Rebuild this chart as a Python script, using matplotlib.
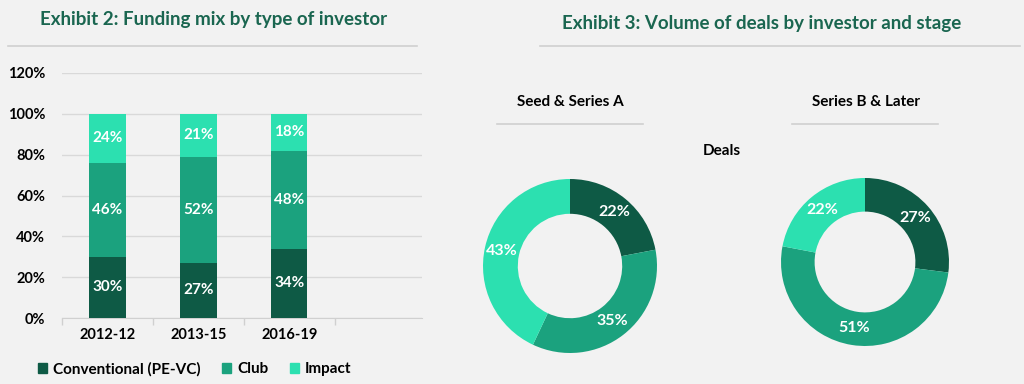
import matplotlib
matplotlib.use("Agg")
import matplotlib.pyplot as plt
import numpy as np

plt.rcParams['font.family'] = ['Lato', 'DejaVu Sans']

# Data
periods = ["2012-12", "2013-15", "2016-19", ""]
conventional = [30, 27, 34]
club = [46, 52, 48]
impact = [24, 21, 18]
series_names = ["Conventional (PE-VC)", "Club", "Impact"]

seed_values = [22, 35, 43]
later_values = [27, 51, 22]

yticks = [0, 20, 40, 60, 80, 100, 120]

BG = "#F2F2F2"
C_DARK = "#0E5A45"
C_MED = "#1BA27E"
C_LIGHT = "#2CE0B0"
TITLE_C = "#1A6650"
colors = [C_DARK, C_MED, C_LIGHT]

W, H = 1024, 384
fig = plt.figure(figsize=(W / 100, H / 100), dpi=100, facecolor=BG)


def fx(px):
    return px / W


def fy(py):
    return 1 - py / H


# Titles
fig.text(fx(40), fy(19), "Exhibit 2: Funding mix by type of investor", color=TITLE_C,
         fontsize=13.5, fontweight='bold', ha='left', va='center')
fig.text(fx(562), fy(23), "Exhibit 3: Volume of deals by investor and stage", color=TITLE_C,
         fontsize=13.5, fontweight='bold', ha='left', va='center')
for x0, x1, y in [(8, 417, 46), (540, 1020, 46), (497, 643, 124), (792, 938, 124)]:
    fig.add_artist(plt.Line2D([fx(x0), fx(x1)], [fy(y), fy(y)], color="#D0D0D0", lw=1.2))

# Bar chart
ax = fig.add_axes([fx(62), fy(318), fx(422 - 62), (318 - 73) / H])
ax.set_facecolor(BG)
x = np.arange(len(periods))
n = len(conventional)
bottoms = np.zeros(n)
for vals, col in zip([conventional, club, impact], colors):
    ax.bar(x[:n], vals, bottom=bottoms, width=0.4, color=col, zorder=3)
    for xi, b, v in zip(x[:n], bottoms, vals):
        ax.text(xi, b + v / 2, f"{v}%", ha='center', va='center', color='white',
                fontsize=11, fontweight='bold', zorder=4)
    bottoms = bottoms + np.array(vals)

ax.set_ylim(0, 120)
ax.set_xlim(-0.5, 3.46)
ax.set_yticks(yticks)
ax.set_yticklabels([f"{v}%" for v in yticks], fontsize=10.5, fontweight='bold')
ax.set_xticks(x[:n])
ax.set_xticklabels(periods[:n], fontsize=10.5, fontweight='bold')
ax.set_xticks([-0.5, 0.5, 1.5, 2.5], minor=True)
ax.tick_params(axis='x', which='major', length=0, pad=7)
ax.tick_params(axis='x', which='minor', length=5, color="#D0D0D0", width=1)
ax.tick_params(axis='y', length=0, pad=12)
ax.grid(axis='y', color="#D9D9D9", lw=1, zorder=0)
for s in ['top', 'right', 'left']:
    ax.spines[s].set_visible(False)
ax.spines['bottom'].set_color("#D0D0D0")

handles = [plt.Rectangle((0, 0), 1, 1, color=c) for c in colors]
fig.legend(handles, series_names, loc='center left', bbox_to_anchor=(fx(24), fy(369)),
           ncol=3, frameon=False, handlelength=0.6, handleheight=0.6,
           handletextpad=0.4, columnspacing=1.4,
           prop={'weight': 'bold', 'size': 11})


# Donuts
def donut(cx, cy, r, values, title, tx):
    ax2 = fig.add_axes([fx(cx - r), fy(cy + r), fx(2 * r), 2 * r / H])
    ax2.set_facecolor(BG)
    ax2.pie(values, colors=colors, startangle=90, counterclock=False,
            radius=1.0, wedgeprops=dict(width=0.4, edgecolor='none'))
    ang0 = 90
    for v in values:
        mid = ang0 - v / 100 * 360 / 2
        ang0 -= v / 100 * 360
        rr = 0.8
        ax2.text(rr * np.cos(np.radians(mid)), rr * np.sin(np.radians(mid)), f"{v}%",
                 ha='center', va='center', color='white', fontsize=11.5, fontweight='bold')
    ax2.set_xlim(-1, 1)
    ax2.set_ylim(-1, 1)
    ax2.set_aspect('equal')
    ax2.axis('off')
    fig.text(fx(tx), fy(102), title, ha='center', va='center', fontsize=11,
             fontweight='bold', color='black')


donut(570, 266, 87, seed_values, "Seed & Series A", 570)
donut(865, 262, 84, later_values, "Series B & Later", 866)
fig.text(fx(722), fy(151), "Deals", ha='center', va='center', fontsize=11,
         fontweight='bold', color='black')

fig.savefig("out.png", dpi=100, facecolor=BG)
